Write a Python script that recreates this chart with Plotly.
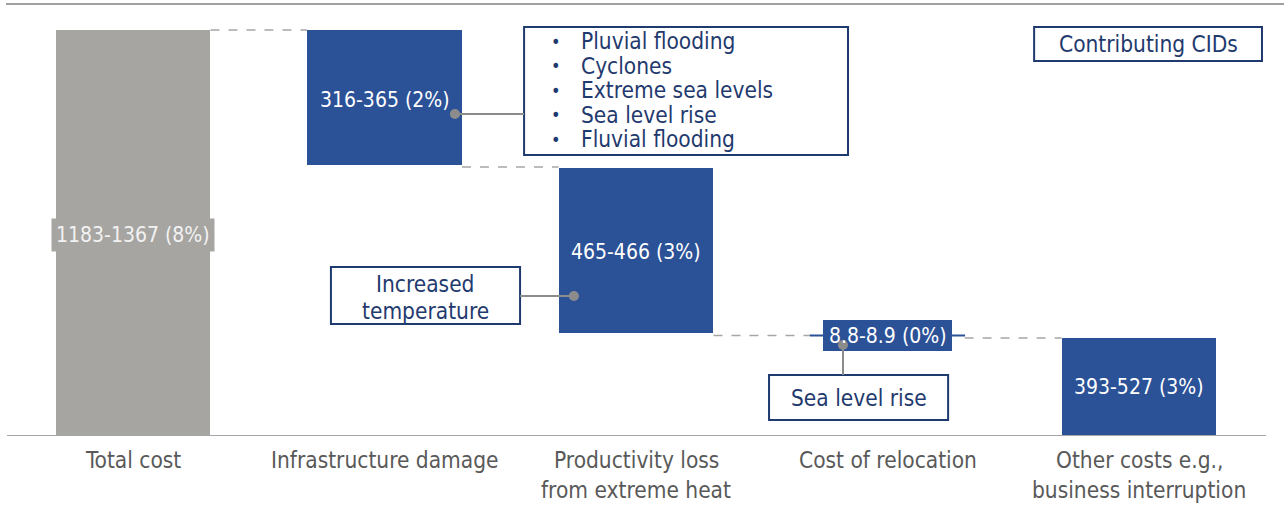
import plotly.graph_objects as go

# ---- data (chart units: height above the baseline) ----
categories = ["Total cost", "Infrastructure damage", "Productivity loss", "Cost of relocation", "Other costs e.g.,"]
categories_line2 = ["", "", "from extreme heat", "", "business interruption"]
bar_base = [0, 271, 103, 85, 0]
bar_top = [406, 406, 268, 116, 98]
bar_labels = ["1183-1367 (8%)", "316-365 (2%)", "465-466 (3%)", "8.8-8.9 (0%)", "393-527 (3%)"]
bar_colors = ["#A6A5A1", "#2B5197", "#2B5197", "#2B5197", "#2B5197"]
bar_widths = [0.616, 0.616, 0.616, 0.513, 0.616]
cid_infra = ["Pluvial flooding", "Cyclones", "Extreme sea levels", "Sea level rise", "Fluvial flooding"]
cid_productivity = ["Increased", "temperature"]
cid_relocation = ["Sea level rise"]

FONT = "DejaVu Sans Condensed, Lato, sans-serif"
NAVY = "#1F3A6E"
GREY_TXT = "#595959"
LINE_GREY = "#8C8C8C"
BOX_FS = 22.5
CAT_FS = 22.5
LBL_FS = 21

x = list(range(len(categories)))
heights = [t - b for t, b in zip(bar_top, bar_base)]

fig = go.Figure()
fig.add_trace(go.Bar(
    x=x, y=heights, base=bar_base, width=bar_widths,
    marker=dict(color=bar_colors, line=dict(width=0)),
    hoverinfo="skip", showlegend=False,
))

shapes = []
annotations = []

# frame lines
shapes.append(dict(type="line", xref="paper", yref="y", x0=6/1284, x1=1.0, y0=432, y1=432,
                   line=dict(color="#A0A0A0", width=2)))
shapes.append(dict(type="line", xref="x", yref="y", x0=-0.501, x1=4.505, y0=0, y1=0,
                   line=dict(color="#A6A6A6", width=2)))

def right(i):
    return x[i] + bar_widths[i] / 2
def left(i):
    return x[i] - bar_widths[i] / 2

dash = dict(color="#A6A6A6", width=1.5, dash="dash")
shapes.append(dict(type="line", x0=right(0), x1=left(1), y0=bar_top[0], y1=bar_top[0], line=dash))
shapes.append(dict(type="line", x0=right(1), x1=left(2), y0=bar_base[1] - 2, y1=bar_base[1] - 2, line=dash))
mid3 = (bar_base[3] + bar_top[3]) / 2
shapes.append(dict(type="line", x0=right(2), x1=left(3) - 0.05, y0=mid3, y1=mid3, line=dash))
shapes.append(dict(type="line", x0=right(3) + 0.05, x1=left(4), y0=bar_top[4], y1=bar_top[4], line=dash))
for xa, xb in [(left(3) - 0.052, left(3)), (right(3), right(3) + 0.052)]:
    shapes.append(dict(type="line", x0=xa, x1=xb, y0=mid3, y1=mid3, line=dict(color="#2B5197", width=2)))

# bar value labels
for i in x:
    yc = (bar_base[i] + bar_top[i]) / 2
    if i == 0:
        annotations.append(dict(x=x[i], y=201, text=bar_labels[i], showarrow=False,
                                font=dict(family=FONT, size=LBL_FS, color="#F2F2F2"),
                                bgcolor=bar_colors[0], borderpad=4))
    else:
        if i == 1:
            yc = 336
        if i == 2:
            yc = 184
        annotations.append(dict(x=x[i], y=yc, text=bar_labels[i], showarrow=False,
                                font=dict(family=FONT, size=LBL_FS, color="white")))

# category labels (paper y so they are not hidden below the axis range)
for i in x:
    annotations.append(dict(x=x[i], yref="paper", y=(436 - 460) / 436, yanchor="middle",
                            text=categories[i], showarrow=False,
                            font=dict(family=FONT, size=CAT_FS, color=GREY_TXT)))
    if categories_line2[i]:
        annotations.append(dict(x=x[i], yref="paper", y=(436 - 490) / 436, yanchor="middle",
                                text=categories_line2[i], showarrow=False,
                                font=dict(family=FONT, size=CAT_FS, color=GREY_TXT)))

def box(x0, x1, y0, y1):
    shapes.append(dict(type="rect", x0=x0, x1=x1, y0=y0, y1=y1, fillcolor="white",
                       line=dict(color=NAVY, width=2), layer="above"))

# Infrastructure callout
box(1.555, 2.843, 281, 409)
for k, t in enumerate(cid_infra):
    yy = 395 - k * 24.6
    annotations.append(dict(x=1.682, y=yy, text="•", showarrow=False, xanchor="center",
                            font=dict(family=FONT, size=18, color=NAVY)))
    annotations.append(dict(x=1.773, y=yy, text=t, showarrow=False, xanchor="left",
                            font=dict(family=FONT, size=BOX_FS, color=NAVY)))
shapes.append(dict(type="line", x0=1.28, x1=1.555, y0=322, y1=322, line=dict(color=LINE_GREY, width=2)))
shapes.append(dict(type="circle", x0=1.28 - 0.02, x1=1.28 + 0.02, y0=322 - 5, y1=322 + 5,
                   fillcolor=LINE_GREY, line=dict(width=0)))

# Productivity callout
box(0.787, 1.539, 112, 169)
annotations.append(dict(x=1.163, y=152, text=cid_productivity[0], showarrow=False,
                        font=dict(family=FONT, size=BOX_FS, color=NAVY)))
annotations.append(dict(x=1.163, y=125, text=cid_productivity[1], showarrow=False,
                        font=dict(family=FONT, size=BOX_FS, color=NAVY)))
shapes.append(dict(type="line", x0=1.539, x1=1.753, y0=140, y1=140, line=dict(color=LINE_GREY, width=2)))
shapes.append(dict(type="circle", x0=1.753 - 0.02, x1=1.753 + 0.02, y0=140 - 5, y1=140 + 5,
                   fillcolor=LINE_GREY, line=dict(width=0)))

# Relocation callout
box(2.529, 3.241, 16, 61)
annotations.append(dict(x=2.885, y=38, text=cid_relocation[0], showarrow=False,
                        font=dict(family=FONT, size=BOX_FS, color=NAVY)))
shapes.append(dict(type="line", x0=2.823, x1=2.823, y0=61, y1=91, line=dict(color=LINE_GREY, width=2)))
shapes.append(dict(type="circle", x0=2.823 - 0.02, x1=2.823 + 0.02, y0=91 - 5, y1=91 + 5,
                   fillcolor=LINE_GREY, line=dict(width=0)))

# Legend-like box
box(3.583, 4.489, 375, 409)
annotations.append(dict(x=4.036, y=392, text="Contributing CIDs", showarrow=False,
                        font=dict(family=FONT, size=BOX_FS, color=NAVY)))

fig.update_layout(
    width=1284, height=506,
    margin=dict(l=0, r=0, t=0, b=70),
    paper_bgcolor="white", plot_bgcolor="white",
    shapes=shapes, annotations=annotations,
    xaxis=dict(range=[-133 / 251.5, (1284 - 133) / 251.5], visible=False, fixedrange=True),
    yaxis=dict(range=[0, 436], visible=False, fixedrange=True),
    bargap=0, showlegend=False,
)

fig.write_html("out.html", config={"displayModeBar": False},
               post_script="document.body.style.margin='0px';document.body.style.overflow='hidden';")
